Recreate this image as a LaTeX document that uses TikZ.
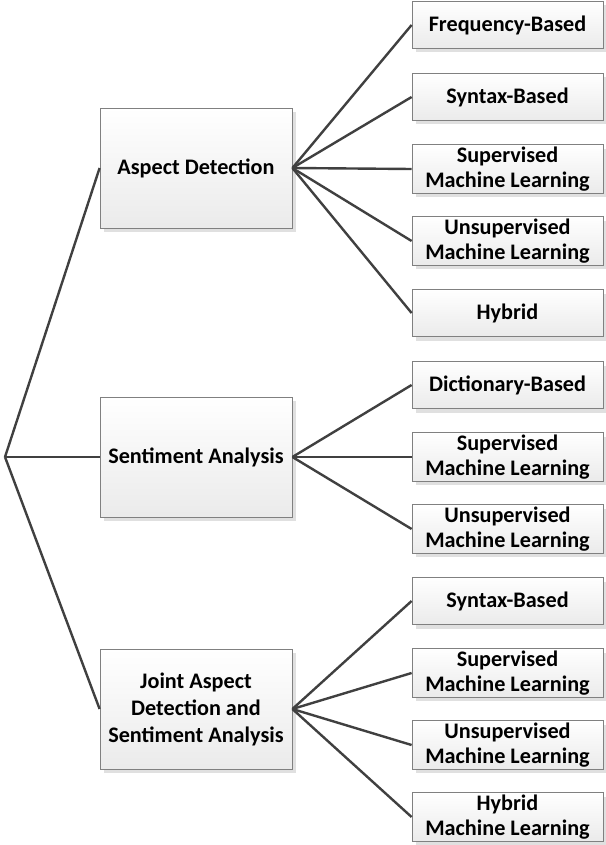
\documentclass[tikz,border=0pt]{standalone}
\usepackage{fontspec}
\setmainfont{Carlito}
\usetikzlibrary{shadows}
\tikzset{
	box/.style={draw=black!50, line width=0.8pt, top color=white, bottom color=black!8, align=center, inner sep=2pt,
		font=\fontsize{22.2}{25.5}\selectfont\bfseries,
		drop shadow={shadow xshift=4pt, shadow yshift=-4pt, fill=black!12, opacity=1}},
	group/.style={box, minimum width=192pt, minimum height=120pt},
	leaf/.style={box, minimum width=191pt, minimum height=47pt},
	link/.style={draw=black!75, line width=2.4pt}
}
\begin{document}
\begin{tikzpicture}[x=1pt, y=-1pt]
	\useasboundingbox (0,0) rectangle (605,845);
	\coordinate (root) at (5,457);
	\node[group] (aspect) at (196,168) {Aspect Detection};
	\node[group] (sent) at (196,457) {Sentiment Analysis};
	\node[group, font=\fontsize{22.2}{27}\selectfont\bfseries] (joint) at (196,709) {Joint Aspect\\Detection and\\Sentiment Analysis};
	\foreach \g in {aspect,sent,joint}
		\draw[link] (root) -- (\g.west);
	\foreach \p/\t [count=\i from 0] in {aspect/Frequency-Based, aspect/Syntax-Based,
			aspect/{Supervised\\Machine Learning}, aspect/{Unsupervised\\Machine Learning}, aspect/Hybrid,
			sent/Dictionary-Based, sent/{Supervised\\Machine Learning}, sent/{Unsupervised\\Machine Learning},
			joint/Syntax-Based, joint/{Supervised\\Machine Learning}, joint/{Unsupervised\\Machine Learning},
			joint/{Hybrid\\Machine Learning}} {
		\node[leaf] (leaf\i) at (507.5,{25+72*\i}) {\t};
		\draw[link] (\p.east) -- (leaf\i.west);
	}
\end{tikzpicture}
\end{document}
